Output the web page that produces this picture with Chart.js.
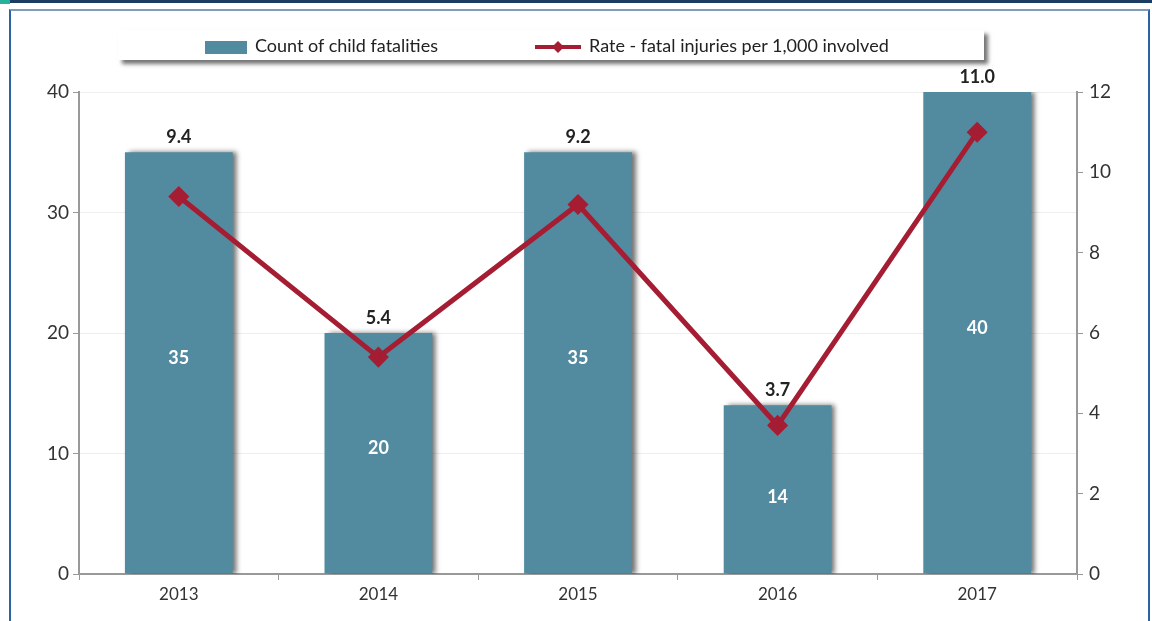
<!DOCTYPE html>
<html>
<head>
<meta charset="utf-8">
<script src="https://cdn.jsdelivr.net/npm/chart.js@4"></script>
<style>
  body { margin: 0; background: #fff; font-family: Lato, "Open Sans", sans-serif; }
  #wrap { position: relative; width: 1152px; height: 621px; overflow: hidden; }
  #topbar { position: absolute; left: 0; top: 0; width: 1152px; height: 3px; background: #1b3d63; }
  #topbar2 { position: absolute; left: 0; top: 0; width: 10px; height: 4px; background: #27b39a; }
  #frame { position: absolute; left: 9px; top: 9px; width: 1137px; height: 640px;
           border-top: 2px solid #7f9cb8; border-left: 2px solid #2a64a6; border-right: 2px solid #2a64a6; }
  canvas { position: absolute; left: 0; top: 0; }
  #legend { position: absolute; left: 118px; top: 30px; width: 866px; height: 30px; background: #fff;
            box-shadow: 4px 4px 4px rgba(0,0,0,0.55); font-size: 18px; color: #222; }
  .item { position: absolute; top: 4px; line-height: 22px; }
  .sw { display: inline-block; vertical-align: middle; margin-right: 8px; }
</style>
</head>
<body>
<div id="wrap">
  <div id="topbar"></div><div id="topbar2"></div>
  <div id="frame"></div>
  <canvas id="grafiek" width="1152" height="621"></canvas>
  <div id="legend">
    <div class="item" style="left:87px"><span class="sw" style="width:42px;height:13px;background:#528b9f"></span>Count of child fatalities</div>
    <div class="item" style="left:417px"><svg class="sw" width="46" height="16" viewBox="0 0 46 16"><line x1="0" y1="8" x2="46" y2="8" stroke="#a51d33" stroke-width="4"/><path d="M23 2 L29 8 L23 14 L17 8 Z" fill="#a51d33"/></svg>Rate - fatal injuries per 1,000 involved</div>
  </div>
</div>
<script>
const jaren = ['2013', '2014', '2015', '2016', '2017'];
const aantal = [35, 20, 35, 14, 40];
const ratio = [9.4, 5.4, 9.2, 3.7, 11.0];

const blauw = '#528b9f';
const rood = '#a51d33';

// schaduw achter de balken + labels
const extras = {
    id: 'extras',
    beforeDatasetDraw(chart, args) {
        if (args.index === 1) {
            const c = chart.ctx;
            c.save();
            c.shadowColor = 'rgba(0,0,0,0.55)';
            c.shadowOffsetX = 4;
            c.shadowOffsetY = 0;
            c.shadowBlur = 5;
        }
    },
    afterDatasetDraw(chart, args) {
        if (args.index === 1) chart.ctx.restore();
    },
    afterDatasetsDraw(chart) {
        const c = chart.ctx;
        const bars = chart.getDatasetMeta(1).data;
        const punten = chart.getDatasetMeta(0).data;
        c.save();
        c.textAlign = 'center';
        c.textBaseline = 'middle';
        c.font = 'bold 18px Lato, sans-serif';
        bars.forEach((b, i) => {
            let y = (b.y + b.base) / 2 - 5;
            // label onder de lijn houden als het punt dichtbij ligt
            if (Math.abs(punten[i].y - y) < 70) y = Math.max(y, punten[i].y + 72);
            c.fillStyle = '#fff';
            c.fillText(String(aantal[i]), b.x, y);
            c.fillStyle = '#222';
            c.fillText(ratio[i].toFixed(1), b.x, b.y - 15);
        });
        c.restore();
    }
};

new Chart(document.getElementById('grafiek'), {
    data: {
        labels: jaren,
        datasets: [{
            type: 'line',
            label: 'Rate - fatal injuries per 1,000 involved',
            data: ratio,
            yAxisID: 'y2',
            borderColor: rood,
            backgroundColor: rood,
            borderWidth: 5,
            pointStyle: 'rectRot',
            pointRadius: 7,
            tension: 0,
            order: 0
        }, {
            type: 'bar',
            label: 'Count of child fatalities',
            data: aantal,
            yAxisID: 'y',
            backgroundColor: blauw,
            barPercentage: 0.54,
            categoryPercentage: 1,
            order: 1
        }]
    },
    options: {
        responsive: false,
        animation: false,
        layout: { padding: { top: 92, left: 0, right: 0, bottom: 0 } },
        plugins: { legend: { display: false }, tooltip: { enabled: false } },
        scales: {
            x: {
                offset: true,
                grid: { offset: true, drawOnChartArea: false, color: '#999', tickLength: 6 },
                border: { color: '#999', width: 2 },
                ticks: { color: '#333', font: { family: 'Lato', size: 17 }, padding: 4 },
                afterFit(s) { s.height = 47; }
            },
            y: {
                position: 'left',
                min: 0, max: 40,
                ticks: { stepSize: 10, color: '#333', font: { family: 'Lato', size: 19 }, padding: 4 },
                grid: { color: '#eee', tickColor: '#999', tickLength: 6 },
                border: { color: '#999', width: 2 },
                afterFit(s) { s.width = 79; }
            },
            y2: {
                position: 'right',
                min: 0, max: 12,
                ticks: { stepSize: 2, color: '#333', font: { family: 'Lato', size: 19 }, padding: 6 },
                grid: { drawOnChartArea: false, color: '#999', tickLength: 6 },
                border: { color: '#999', width: 2 },
                afterFit(s) { s.width = 75; }
            }
        }
    },
    plugins: [extras]
});
</script>
</body>
</html>
